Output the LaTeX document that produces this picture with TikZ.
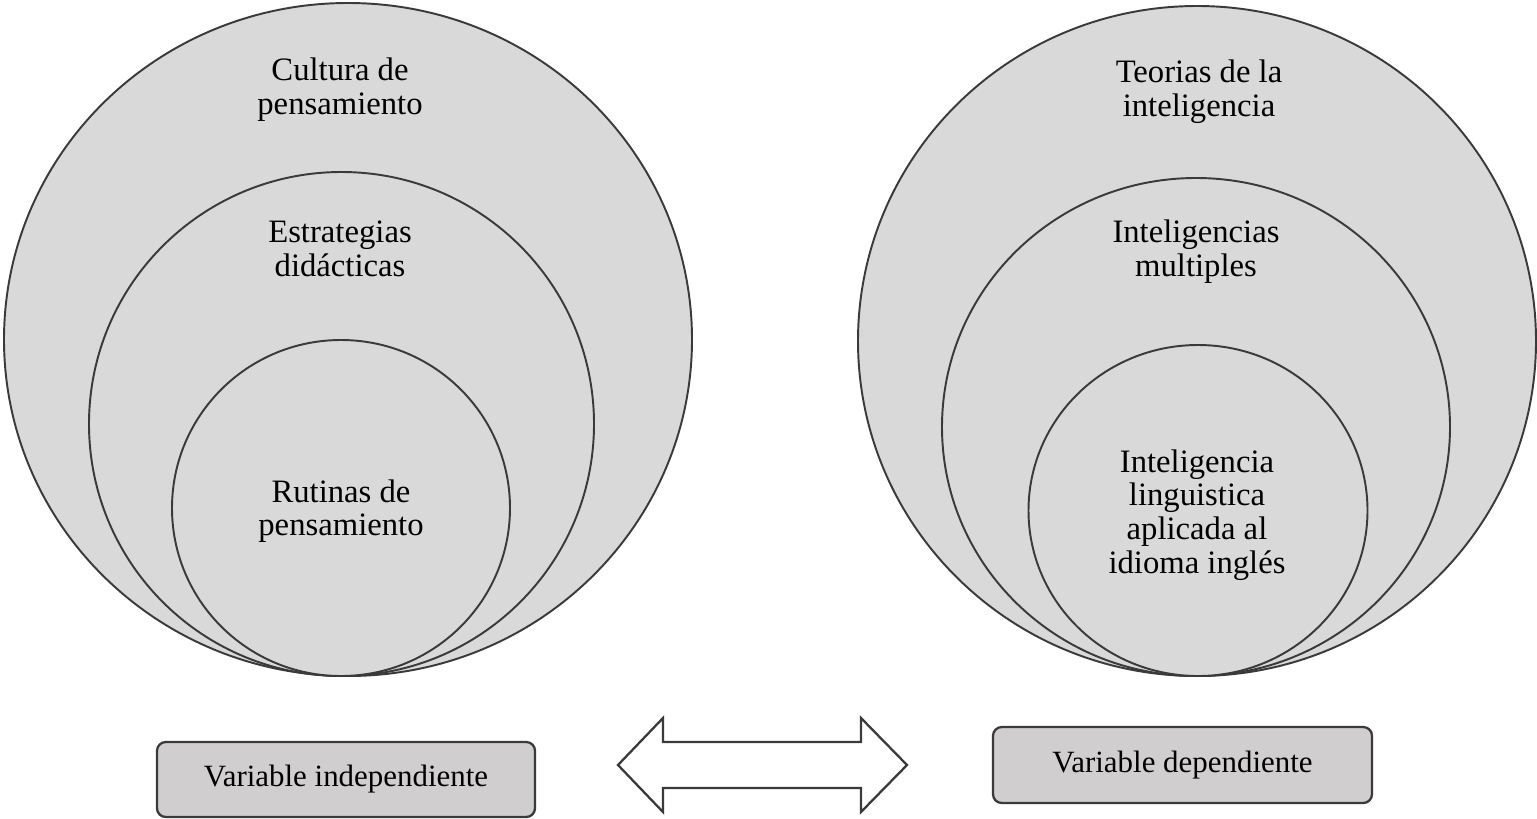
\documentclass[tikz,border=0pt]{standalone}
\usepackage{fontspec}
\setmainfont{Liberation Serif}
\usetikzlibrary{shapes}
\definecolor{ringgray}{HTML}{D9D9D9}
\definecolor{boxgray}{HTML}{D0CECE}
\definecolor{edgegray}{HTML}{3A3A3A}

\begin{document}
\begin{tikzpicture}[
  ring/.style={ellipse, inner sep=0pt, fill=ringgray, draw=edgegray, line width=1.1pt},
  lbl/.style={align=center, font=\fontsize{18.6}{19.2}\selectfont},
  varbox/.style={rectangle, rounded corners=5pt, fill=boxgray, draw=edgegray, line width=1.3pt,
    minimum width=7.56cm, minimum height=1.5cm, font=\fontsize{17.6}{20}\selectfont},
  linkarrow/.style={fill=white, draw=edgegray, line width=1.3pt}]

\useasboundingbox (0,0) rectangle (30.74,-16.36);

\node[ring, minimum width=13.76cm, minimum height=13.46cm] (L1) at (6.96,-6.79) {};
\node[ring, minimum width=10.1cm, minimum height=10.08cm] (L2) at (6.83,-8.48) {};
\node[ring, minimum width=6.76cm, minimum height=6.72cm] (L3) at (6.82,-10.16) {};

\node[ring, minimum width=13.56cm, minimum height=13.4cm] (R1) at (23.94,-6.82) {};
\node[ring, minimum width=10.16cm, minimum height=9.96cm] (R2) at (23.92,-8.54) {};
\node[ring, minimum width=6.78cm, minimum height=6.62cm] (R3) at (23.96,-10.21) {};

\node[lbl] (cultura) at (6.80,-1.80) {Cultura de\\pensamiento};
\node[lbl] (estrategias) at (6.80,-4.98) {Estrategias\\didácticas};
\node[lbl] (rutinas) at (6.82,-10.22) {Rutinas de\\pensamiento};

\node[lbl] (teorias) at (23.98,-1.84) {Teorias de la\\inteligencia};
\node[lbl] (multiples) at (23.92,-5.04) {Inteligencias\\multiples};
\node[lbl] (linguistica) at (23.94,-10.30) {Inteligencia\\linguistica\\aplicada al\\idioma inglés};

\node[varbox] (indep) at (6.92,-15.59) {Variable independiente};
\node[varbox, minimum width=7.58cm, minimum height=1.52cm] (dep) at (23.65,-15.30) {Variable dependiente};

\draw[linkarrow] (12.36,-15.30) -- (13.26,-14.36) -- (13.26,-14.84) -- (17.22,-14.84)
  -- (17.22,-14.36) -- (18.14,-15.30) -- (17.22,-16.24) -- (17.22,-15.76)
  -- (13.26,-15.76) -- (13.26,-16.24) -- cycle;
\end{tikzpicture}
\end{document}
